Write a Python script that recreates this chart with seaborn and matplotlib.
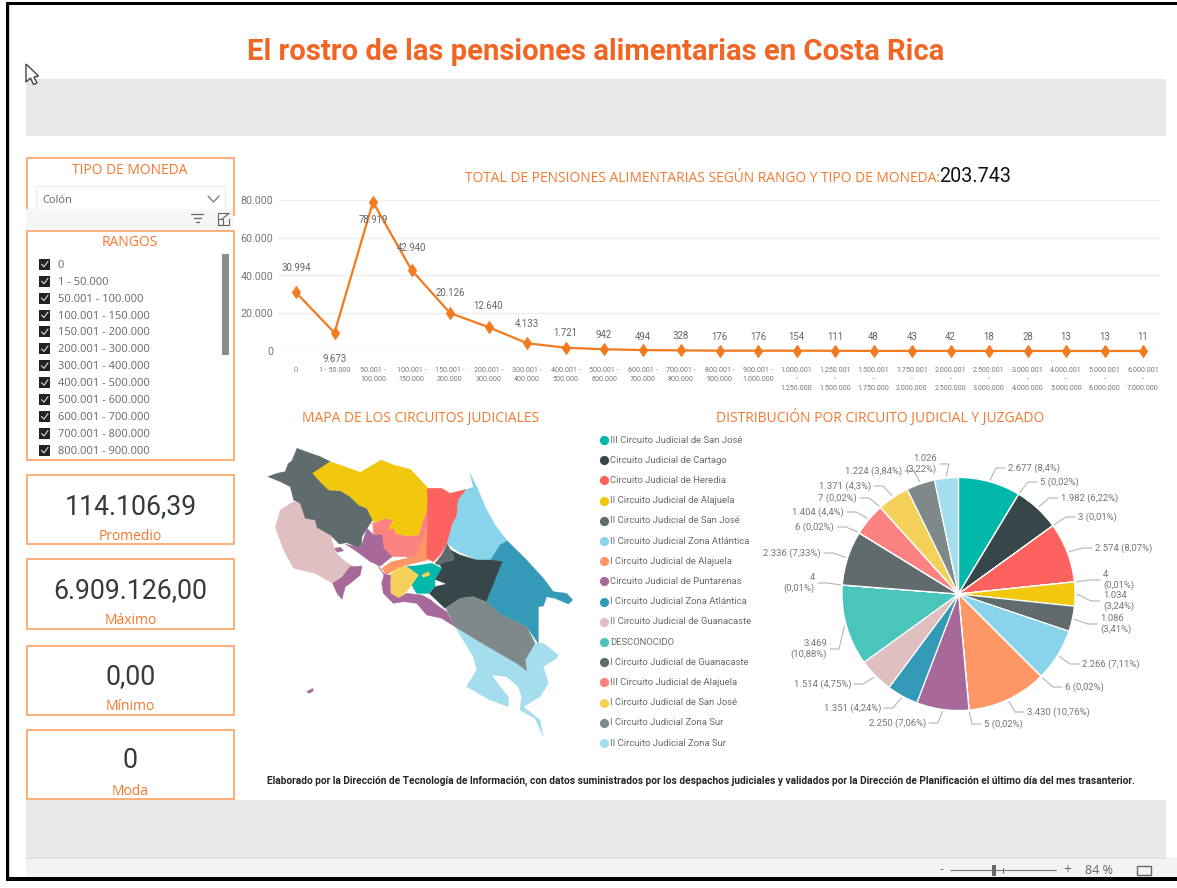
import math
import numpy as np
import pandas as pd
import seaborn as sns
import matplotlib
matplotlib.use("Agg")
import matplotlib.pyplot as plt
from matplotlib.patches import Rectangle, Polygon

sns.set_theme(style="white")
NARROW = "Roboto"
plt.rcParams["font.family"] = ["Open Sans", "DejaVu Sans"]

W, H = 1177, 888
ORANGE = "#F4782D"
BORDER = "#FBA262"
GREY_TXT = "#767676"

# ---------- data ----------
range_ticks = ["0", "1 - 50.000", "50.001 -\n100.000", "100.001 -\n150.000", "150.001 -\n200.000",
               "200.001 -\n300.000", "300.001 -\n400.000", "400.001 -\n500.000", "500.001 -\n600.000",
               "600.001 -\n700.000", "700.001 -\n800.000", "800.001 -\n900.000", "900.001 -\n1.000.000",
               "1.000.001\n-\n1.250.000", "1.250.001\n-\n1.500.000", "1.500.001\n-\n1.750.000",
               "1.750.001\n-\n2.000.000", "2.000.001\n-\n2.500.000", "2.500.001\n-\n3.000.000",
               "3.000.001\n-\n4.000.000", "4.000.001\n-\n5.000.000", "5.000.001\n-\n6.000.000",
               "6.000.001\n-\n7.000.000"]
range_totals = [30994, 9673, 78919, 42940, 20126, 12640, 4133, 1721, 942, 494, 328, 176, 176,
                154, 111, 48, 43, 42, 18, 28, 13, 13, 11]
range_labels = ["30.994", "9.673", "78.919", "42.940", "20.126", "12.640", "4.133", "1.721", "942", "494",
                "328", "176", "176", "154", "111", "48", "43", "42", "18", "28", "13", "13", "11"]
y_ticks = [0, 20000, 40000, 60000, 80000]
y_tick_labels = ["0", "20.000", "40.000", "60.000", "80.000"]

slicer_items = ["0", "1 - 50.000", "50.001 - 100.000", "100.001 - 150.000", "150.001 - 200.000",
                "200.001 - 300.000", "300.001 - 400.000", "400.001 - 500.000", "500.001 - 600.000",
                "600.001 - 700.000", "700.001 - 800.000", "800.001 - 900.000"]
kpi_values = ["114.106,39", "6.909.126,00", "0,00", "0"]
kpi_names = ["Promedio", "Máximo", "Mínimo", "Moda"]

circuits = ["III Circuito Judicial de San José", "Circuito Judicial de Cartago", "Circuito Judicial de Heredia",
            "II Circuito Judicial de Alajuela", "II Circuito Judicial de San José",
            "II Circuito Judicial Zona Atlántica", "I Circuito Judicial de Alajuela",
            "Circuito Judicial de Puntarenas", "I Circuito Judicial Zona Atlántica",
            "II Circuito Judicial de Guanacaste", "DESCONOCIDO", "I Circuito Judicial de Guanacaste",
            "III Circuito Judicial de Alajuela", "I Circuito Judicial de San José",
            "I Circuito Judicial Zona Sur", "II Circuito Judicial Zona Sur"]
circuit_colors = ["#01B8AA", "#374649", "#FD625E", "#F2C80F", "#5F6B6D", "#8AD4EB", "#FE9666", "#A66999",
                  "#3599B8", "#DFBFBF", "#4AC5BB", "#5F6B6D", "#FB8281", "#F4D25A", "#7F898A", "#A4DDEE"]

pie_values = [2677, 5, 1982, 3, 2574, 4, 1034, 1086, 2266, 6, 3430, 5, 2250, 1351, 1514, 3469, 4, 2336,
              6, 1404, 7, 1371, 1224, 1026]
pie_circuit = [0, 1, 1, 2, 2, 3, 3, 4, 5, 6, 6, 7, 7, 8, 9, 10, 11, 11, 12, 12, 13, 13, 14, 15]
pie_labels = ["2.677 (8,4%)", "5 (0,02%)", "1.982 (6,22%)", "3 (0,01%)", "2.574 (8,07%)", "4\n(0,01%)",
              "1.034\n(3,24%)", "1.086\n(3,41%)", "2.266 (7,11%)", "6 (0,02%)", "3.430 (10,76%)", "5 (0,02%)",
              "2.250 (7,06%)", "1.351 (4,24%)", "1.514 (4,75%)", "3.469\n(10,88%)", "4\n(0,01%)",
              "2.336 (7,33%)", "6 (0,02%)", "1.404 (4,4%)", "7 (0,02%)", "1.371 (4,3%)", "1.224 (3,84%)",
              "1.026\n(3,22%)"]
# label anchor: x of the near edge, y of the centre
pie_label_x = [1008, 1040, 1061, 1078, 1095, 1103, 1103, 1100, 1082, 1065, 1027, 984,
               926, 881, 851, 827, 815, 821, 834, 844, 857, 871, 902, 937]
pie_label_y = [468, 482, 498, 517, 548, 580, 601, 624, 664, 687, 712, 724,
               723, 708, 684, 649, 583, 553, 527, 512, 498, 486, 471, 464]

# map regions: outline vertices, y down, traced in two local frames
def west(points):
    return [(x + 6, y + 30) for x, y in points]

def east(points):
    return [(x + 330, y + 150) for x, y in points]

map_guanacaste_1 = west([(18,110),(45,100),(70,95),(78,72),(90,62),(105,25),(140,38),(175,50),(205,65),(152,100),(172,122),(200,150),(235,152),(265,170),(290,195),(315,205),(332,240),(315,265),(300,290),(298,318),(285,322),(255,308),(232,312),(205,285),(165,262),(160,240),(130,235),(115,190),(95,180),(85,140),(55,125)])
map_alajuela_2 = west([(152,100),(205,65),(295,97),(358,60),(395,75),(445,88),(480,125),(497,143),(497,205),(480,250),(470,285),(430,287),(400,280),(395,262),(378,270),(395,240),(370,235),(340,248),(332,240),(315,205),(290,195),(265,170),(235,152),(200,150),(172,122)])
map_guanacaste_2 = west([(55,210),(95,185),(115,190),(130,235),(160,240),(165,262),(205,285),(212,310),(222,340),(250,365),(272,378),(240,405),(212,430),(160,400),(95,385),(65,330),(40,262)])
map_alajuela_3 = west([(332,248),(340,248),(370,235),(395,240),(378,270),(395,262),(400,280),(430,287),(470,285),(480,250),(497,205),(497,270),(470,330),(460,358),(430,350),(390,350),(365,325),(360,285),(335,290)])
map_puntarenas_b = west([(250,312),(285,322),(298,318),(315,265),(335,285),(360,285),(365,325),(390,350),(355,378),(325,365),(285,335)])
map_puntarenas_c = west([(212,430),(240,410),(265,380),(300,378),(295,405),(265,430),(250,440),(240,478),(225,460)])
map_puntarenas_d = west([(218,325),(235,322),(245,332),(225,337)])
map_puntarenas_e = [(140,785),(158,775),(160,782),(148,790)]
map_alajuela_1 = east([(35,265),(65,245),(110,235),(135,230),(155,190),(172,135),(172,240),(110,255),(65,275),(50,285)])
map_heredia = east([(172,25),(215,25),(240,40),(290,28),(265,60),(260,110),(248,130),(232,190),(210,225),(190,245),(170,235),(172,150)])
map_atlantica_2 = east([(290,28),(310,22),(300,-20),(325,30),(345,80),(375,135),(412,183),(390,195),(362,240),(320,240),(260,212),(232,190),(248,130),(260,110),(265,60)])
map_atlantica_1 = east([(412,183),(465,235),(520,295),(550,335),(590,340),(608,360),(595,372),(555,355),(530,350),(520,378),(505,380),(505,490),(470,440),(395,405),(360,410),(348,365),(397,245),(362,240),(390,195)])
map_cartago = east([(232,205),(270,225),(320,240),(362,240),(397,245),(348,365),(310,350),(270,355),(225,385),(178,340),(195,320),(230,312),(195,298),(215,262),(205,250),(250,240)])
map_sanjose_2 = east([(232,192),(255,235),(205,255),(195,250),(215,225)])
map_sanjose_3 = east([(110,258),(135,258),(185,250),(215,265),(195,298),(195,320),(175,340),(140,340),(125,315),(145,285)])
map_sanjose_1 = east([(62,285),(85,262),(110,260),(145,285),(125,315),(105,340),(85,355),(62,340),(60,310)])
map_sanjose_1b = east([(155,285),(175,275),(180,285),(160,292)])
map_puntarenas_a = east([(20,250),(35,275),(50,285),(62,285),(60,310),(62,340),(85,355),(110,340),(155,345),(180,358),(200,375),(230,395),(255,440),(215,415),(170,405),(140,370),(100,365),(70,370),(40,340),(35,310),(42,285)])
map_sur_1 = east([(228,385),(270,355),(310,350),(350,368),(395,405),(470,440),(495,490),(465,540),(470,572),(440,550),(380,515),(320,480),(255,440)])
map_sur_2 = [(585,590),(650,630),(710,665),(770,700),(800,722),(795,690),(825,640),(850,640),(895,675),(890,685),(850,710),(865,760),(840,800),(790,830),(840,870),(850,920),(825,865),(780,840),(785,800),(775,770),(740,740),(695,735),(720,770),(745,800),(745,830),(690,810),(620,770),(650,720),(640,680)]
map_regions = [(map_guanacaste_2, 9), (map_guanacaste_1, 11), (map_alajuela_3, 12), (map_alajuela_2, 3),
               (map_alajuela_1, 6), (map_heredia, 2), (map_atlantica_2, 5), (map_atlantica_1, 8),
               (map_cartago, 1), (map_sanjose_2, 4), (map_sanjose_3, 0), (map_sanjose_1, 13), (map_sanjose_1b, 13),
               (map_puntarenas_a, 7), (map_puntarenas_b, 7), (map_puntarenas_c, 7), (map_puntarenas_d, 7),
               (map_puntarenas_e, 7), (map_sur_2, 15), (map_sur_1, 14)]

# ---------- helpers ----------
fig = plt.figure(figsize=(W / 100, H / 100), dpi=100, facecolor="white")

def px_axes(x0, y0, x1, y1, z=1):
    a = fig.add_axes([x0 / W, 1 - y1 / H, (x1 - x0) / W, (y1 - y0) / H], zorder=z)
    a.patch.set_alpha(0)
    return a

ov = fig.add_axes([0, 0, 1, 1], zorder=0)
ov.set_xlim(0, W); ov.set_ylim(H, 0); ov.axis("off")

def rect(x0, y0, x1, y1, fc="none", ec="none", lw=0, z=1):
    ov.add_patch(Rectangle((x0, y0), x1 - x0, y1 - y0, facecolor=fc, edgecolor=ec, linewidth=lw, zorder=z))

def text(x, y, s, size=9, color=GREY_TXT, ha="left", va="center", fit=None, **kw):
    t = ov.text(x, y, s, fontsize=size, color=color, ha=ha, va=va, zorder=6, **kw)
    if fit:
        r = fig.canvas.get_renderer()
        t.set_fontsize(size * fit / t.get_window_extent(r).width)
    return t

# ---------- chrome ----------
rect(26, 79, 1166, 136, fc="#E9E9E9")
rect(26, 800, 1166, 857, fc="#E9E9E9")
rect(26, 857, 1177, 878, fc="#F3F3F3")
rect(26, 857, 1166, 858.5, fc="#E2E2E2")
rect(9, 5, 10, 877, fc="#D8D8D8", z=2)
rect(6, 2, 9, 881, fc="black", z=3)
rect(6, 2, W, 5, fc="black", z=3)
rect(6, 877, W, 881, fc="black", z=3)

ov.add_patch(Polygon([(26, 64), (38.5, 76), (34, 77), (37, 83), (33.5, 84.5), (30.5, 78), (26, 82)],
                     closed=True, facecolor="white", edgecolor="#444444", linewidth=1, zorder=4))

text(596, 52.5, "El rostro de las pensiones alimentarias en Costa Rica", size=24, color="#F26522",
     ha="center", family=NARROW, weight="bold", fit=699)

# slicers
rect(26.5, 158, 234, 215, ec=BORDER, lw=1.2, fc="white", z=1)
text(130, 170, "TIPO DE MONEDA", size=10, color=ORANGE, ha="center", fit=115)
rect(36, 186, 225, 212, ec="#EEEEEE", lw=1, fc="white", z=1)
text(42, 200.5, "Colón", size=8, color="#666666")
ov.plot([208, 213.5, 219], [196, 202, 196], color="#777777", lw=0.9, zorder=5)
rect(26, 209, 233, 229, fc="#F6F6F6", z=2)
for y, a, b in [(214.5, 191, 203), (218.5, 193.5, 200.5), (222.5, 195.5, 198.5)]:
    ov.plot([a, b], [y, y], color="#666666", lw=0.9, zorder=5)
ov.plot([223, 217.5, 217.5, 229, 229], [213.5, 213.5, 225, 225, 219], color="#666666", lw=0.8, zorder=5)
ov.plot([222, 229, 229, 224, 229], [219, 213.5, 213.5, 213.5, 213.5], color="#666666", lw=0.8, zorder=5)
rect(217.5, 219, 223, 225, ec="#666666", lw=0.8, z=5)

rect(26.5, 230.5, 234, 460, ec=BORDER, lw=1.2, fc="white", z=1)
text(130, 242, "RANGOS", size=10, color=ORANGE, ha="center", fit=56)
rect(222, 254, 229, 355, fc="#8E8E8E", z=3)
for i, s in enumerate(slicer_items):
    y = 264.3 + i * 16.92
    rect(39, y - 5.5, 50, y + 5.5, fc="#222222", z=3)
    ov.plot([41.5, 44, 48], [y, y + 2.5, y - 3], color="#DDDDDD", lw=0.8, zorder=4)
    text(57.5, y + 1, s, size=8, color="#666666")

# KPI cards
for (y0, y1, yv, yl), v, n in zip([(475, 544, 505, 535), (559, 628.5, 589, 619),
                                   (645.5, 715, 675, 705), (730, 799, 759, 790)], kpi_values, kpi_names):
    rect(26.5, y0, 234, y1, ec=BORDER, lw=1.2, fc="white", z=1)
    text(130.5, yv + 1.5, v, size=19.2, color="#333A40", ha="center", family="Roboto")
    text(130.5, yl + 1, n, size=10, color=ORANGE, ha="center")

# ---------- line chart ----------
text(465, 178.5, "TOTAL DE PENSIONES ALIMENTARIAS SEGÚN RANGO Y TIPO DE MONEDA:", size=10, color=ORANGE, fit=473)
text(939, 177, "203.743", size=15, color="#111111", family="Roboto", fit=72)

lax = px_axes(279, 200, 1160, 351, 2)
STEP = (1143 - 296) / 22
frame = pd.DataFrame({"pos": np.arange(len(range_totals)), "total": range_totals})
sns.lineplot(data=frame, x="pos", y="total", ax=lax, color="#F27A1F", linewidth=1.6, marker="d",
             markersize=6, markeredgecolor="#F27A1F", clip_on=False, zorder=4)
lax.set_xlim((279 - 296) / STEP, (1160 - 296) / STEP)
lax.set_ylim(0, 80000)
lax.set_xlabel(""); lax.set_ylabel("")
lax.set_yticks(y_ticks, y_tick_labels, fontsize=7.7, color=GREY_TXT, family=NARROW)
lax.set_xticks(frame["pos"], range_ticks, fontsize=5.1, color=GREY_TXT, family=NARROW, linespacing=1.42)
lax.tick_params(axis="both", length=0)
lax.tick_params(axis="x", pad=11.5)
lax.tick_params(axis="y", pad=4)
lax.grid(axis="y", color="#EFEFEF", linewidth=1)
lax.set_axisbelow(True)
for s in lax.spines.values():
    s.set_visible(False)
label_rise = [24, -26, -18, 22, 20, 21, 19, 15, 14, 13, 14, 14, 14, 14, 14, 14, 14, 14, 14, 14, 14, 14, 14]
for x, v, s, d in zip(frame["pos"], range_totals, range_labels, label_rise):
    lax.annotate(s, (x, v), xytext=(0, d * 0.72), textcoords="offset points", ha="center", va="center",
                 fontsize=6.9, color="#666666", family=NARROW, zorder=5, annotation_clip=False)

# ---------- map ----------
text(420.5, 418, "MAPA DE LOS CIRCUITOS JUDICIALES", size=10, color=ORANGE, ha="center", fit=235)
max_ = px_axes(260, 430, 590, 750, 2)
max_.set_xlim(0, 990); max_.set_ylim(960, 0); max_.axis("off")
for pts, c in map_regions:
    xs, ys = zip(*pts)
    max_.fill(xs, ys, facecolor=circuit_colors[c], edgecolor=circuit_colors[c], linewidth=0.3)

# ---------- legend ----------
for i, (n, c) in enumerate(zip(circuits, circuit_colors)):
    y = 440 + i * 20.2
    ov.scatter([604], [y], s=44, color=c, zorder=5, linewidths=0)
    text(610, y, n, size=6.8, color="#6A6A6A", family=NARROW)

# ---------- pie ----------
text(880, 417, "DISTRIBUCIÓN POR CIRCUITO JUDICIAL Y JUZGADO", size=10, color=ORANGE, ha="center", fit=328)
CX, CY, R = 958.5, 594, 116.5
pax = px_axes(CX - R, CY - R, CX + R, CY + R, 2)
wedges, _ = pax.pie(pie_values, colors=[circuit_colors[i] for i in pie_circuit], startangle=90,
                    counterclock=False, radius=1,
                    wedgeprops=dict(edgecolor="white", linewidth=0.9))
pax.set_xlim(-1, 1); pax.set_ylim(-1, 1)

for w, s, lx, ly in zip(wedges, pie_labels, pie_label_x, pie_label_y):
    th = math.radians((w.theta1 + w.theta2) / 2)
    dx, dy = math.cos(th), -math.sin(th)
    right = lx > CX + 5
    x0, y0 = CX + (R + 2) * dx, CY + (R + 2) * dy
    edge = lx - 3 if right else lx + 3
    elbow = edge - 9 if right else edge + 9
    if abs(elbow - x0) > 14 and ((right and elbow < x0) or (not right and elbow > x0)):
        elbow = x0
    ov.plot([x0, elbow, edge], [y0, ly, ly], color="#B5B5B5", lw=0.8, zorder=5, solid_joinstyle="round")
    text(lx, ly, s, size=6.8, color=GREY_TXT, ha="left" if right else "right", family=NARROW,
         linespacing=1.2)

text(701, 781, "Elaborado por la Dirección de Tecnología de Información, con datos suministrados por los despachos "
     "judiciales y validados por la Dirección de Planificación el último día del mes trasanterior.",
     size=7, color="#252525", ha="center", weight="bold", family="Roboto", fit=871)

# ---------- zoom bar ----------
text(942, 870, "-", size=9, color="#666666", ha="center")
ov.plot([950, 1056], [870, 870], color="#777777", lw=0.8, zorder=5)
rect(992, 865, 996, 876, fc="#666666", z=5)
ov.plot([1003, 1003], [867.5, 872.5], color="#777777", lw=0.8, zorder=5)
text(1067, 870, "+", size=10, color="#666666", ha="center")
text(1099, 870.5, "84 %", size=9, color="#666666", ha="center")
rect(1137, 866, 1151, 875, ec="#666666", lw=1, z=5)

fig.savefig("out.png", dpi=100, facecolor="white")
